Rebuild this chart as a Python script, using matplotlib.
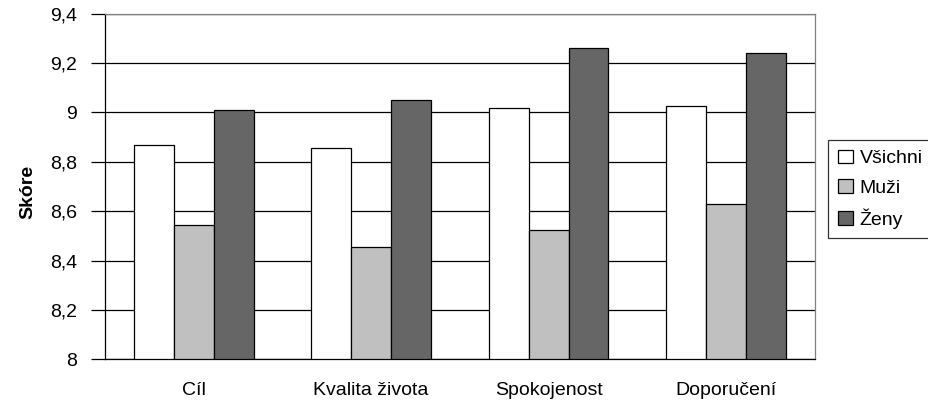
import numpy as np
import matplotlib
matplotlib.use('Agg')
import matplotlib.pyplot as plt

categories = ['Cíl', 'Kvalita života', 'Spokojenost', 'Doporučení']
series_names = ['Všichni', 'Muži', 'Ženy']
vsichni = [8.87, 8.855, 9.02, 9.025]
muzi = [8.545, 8.455, 8.525, 8.63]
zeny = [9.01, 9.05, 9.26, 9.24]
y_ticks = [8.0, 8.2, 8.4, 8.6, 8.8, 9.0, 9.2, 9.4]
y_tick_labels = ['8', '8,2', '8,4', '8,6', '8,8', '9', '9,2', '9,4']

plt.rcParams['font.family'] = ['Liberation Sans', 'DejaVu Sans']

fig = plt.figure(figsize=(9.29, 4.05), dpi=100)
ax = fig.add_axes([0.113, 0.1128, 0.764, 0.8533])

colors = ['#ffffff', '#c0c0c0', '#666666']
width = 0.225
x = np.arange(len(categories))
for k, (vals, name) in enumerate(zip([vsichni, muzi, zeny], series_names)):
    ax.bar(x + (k - 1) * width, np.array(vals) - 8.0, width, bottom=8.0,
           color=colors[k], edgecolor='black', linewidth=0.9, label=name, zorder=3)

ax.set_xlim(-0.5, len(categories) - 0.5)
ax.set_ylim(8.0, 9.4)
ax.set_yticks(y_ticks)
ax.set_yticklabels(y_tick_labels, fontsize=14)
ax.set_xticks(x)
ax.set_xticklabels(categories, fontsize=14)
ax.tick_params(axis='x', length=0, pad=16)
ax.tick_params(axis='y', length=10, width=0.9, pad=10)
ax.yaxis.grid(True, color='black', linewidth=0.9, zorder=0)
ax.set_axisbelow(True)

for side in ['left', 'bottom']:
    ax.spines[side].set_color('black')
    ax.spines[side].set_linewidth(0.9)
for side in ['top', 'right']:
    ax.spines[side].set_color('#808080')
    ax.spines[side].set_linewidth(0.9)

ax.set_ylabel('Skóre', fontsize=14, fontweight='bold')
ax.yaxis.set_label_coords(-0.097, 0.485)

leg = fig.legend(loc='upper left', bbox_to_anchor=(828.5 / 929, 1 - 140 / 405),
                 fontsize=14, frameon=True, fancybox=False, edgecolor='black',
                 handlelength=0.75, handleheight=0.7, handletextpad=0.35,
                 borderpad=0.5, labelspacing=0.6, borderaxespad=0)
leg.get_frame().set_linewidth(0.9)

fig.savefig('out.png', dpi=100)
